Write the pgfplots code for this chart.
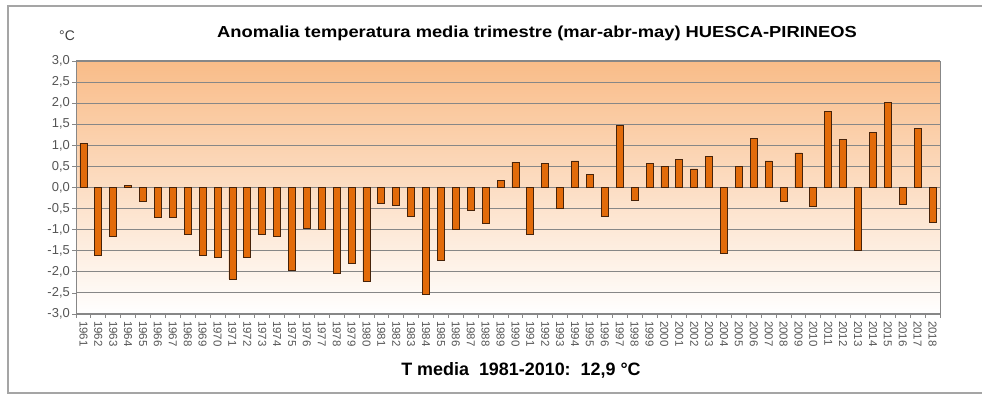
\documentclass[border=0pt]{standalone}
\usepackage{fontspec}
\setmainfont{Liberation Sans}
\usepackage{pgfplots}
\pgfplotsset{compat=1.18}
\usepackage{pgfplotstable}
\definecolor{barfill}{RGB}{226,107,10}
\definecolor{baredge}{RGB}{70,35,10}
\definecolor{bgtop}{RGB}{249,188,136}
\definecolor{gridc}{RGB}{135,135,135}
\definecolor{framec}{RGB}{165,165,165}
\definecolor{labc}{RGB}{85,85,85}
\pgfplotstableread{
year val
1961 1.05
1962 -1.60
1963 -1.17
1964 0.05
1965 -0.32
1966 -0.72
1967 -0.72
1968 -1.12
1969 -1.60
1970 -1.66
1971 -2.17
1972 -1.66
1973 -1.12
1974 -1.16
1975 -1.96
1976 -0.96
1977 -1.00
1978 -2.03
1979 -1.80
1980 -2.23
1981 -0.38
1982 -0.42
1983 -0.68
1984 -2.53
1985 -1.72
1986 -1.00
1987 -0.54
1988 -0.84
1989 0.17
1990 0.60
1991 -1.12
1992 0.58
1993 -0.50
1994 0.63
1995 0.32
1996 -0.68
1997 1.47
1998 -0.30
1999 0.56
2000 0.50
2001 0.67
2002 0.44
2003 0.73
2004 -1.56
2005 0.50
2006 1.17
2007 0.63
2008 -0.34
2009 0.82
2010 -0.44
2011 1.81
2012 1.15
2013 -1.50
2014 1.31
2015 2.02
2016 -0.40
2017 1.40
2018 -0.82
}\datatable
\begin{document}
\begin{tikzpicture}
\path[use as bounding box] (0,0) rectangle (982bp,400bp);
\fill[white] (0,0) rectangle (982bp,400bp);
\draw[framec, line width=1.5bp] (982bp,7bp) -- (8bp,7bp) -- (8bp,394bp) -- (982bp,394bp);
\begin{axis}[
  at={(76bp,86bp)}, anchor=south west,
  scale only axis, width=864bp, height=253bp,
  xmin=1960.5, xmax=2018.5, ymin=-3, ymax=3,
  ybar, bar width=7bp,
  axis background/.style={shade, top color=bgtop, bottom color=white},
  axis line style={gridc, line width=1bp},
  xtick=data,
  minor xtick={1960.5,1961.5,...,2018.5},
  major x tick style={draw=none},
  minor x tick style={gridc, line width=0.8bp},
  minor tick length=4bp,
  ytick={-3,-2.5,...,3},
  major y tick style={gridc, line width=0.8bp},
  major tick length=4bp,
  tick align=outside,
  tick pos=left,
  ymajorgrids,
  major grid style={gridc, line width=1.1bp},
  /pgf/number format/assume math mode=true,
  xticklabel style={rotate=-90, anchor=west, font=\fontsize{11.5}{11.5}\selectfont, text=labc, /pgf/number format/1000 sep={}, inner sep=0bp, xshift=3bp},
  yticklabel style={font=\fontsize{13}{13}\selectfont, text=labc, inner sep=2bp, /pgf/number format/.cd, fixed, fixed zerofill, precision=1, use comma},
]
\addplot[fill=barfill, draw=baredge, line width=0.8bp] table[x=year, y=val] {\datatable};
\end{axis}
\node[font=\bfseries\fontsize{16}{16}\selectfont] at (537bp,367bp) {\scalebox{1.15}[1]{Anomalia temperatura media trimestre (mar-abr-may) HUESCA-PIRINEOS}};
\node[font=\fontsize{14}{14}\selectfont, text=black!75] at (67bp,364bp) {°C};
\node[font=\bfseries\fontsize{18}{18}\selectfont] at (521bp,30bp) {T media\ \ 1981-2010:\ \ 12,9 °C};
\end{tikzpicture}
\end{document}
